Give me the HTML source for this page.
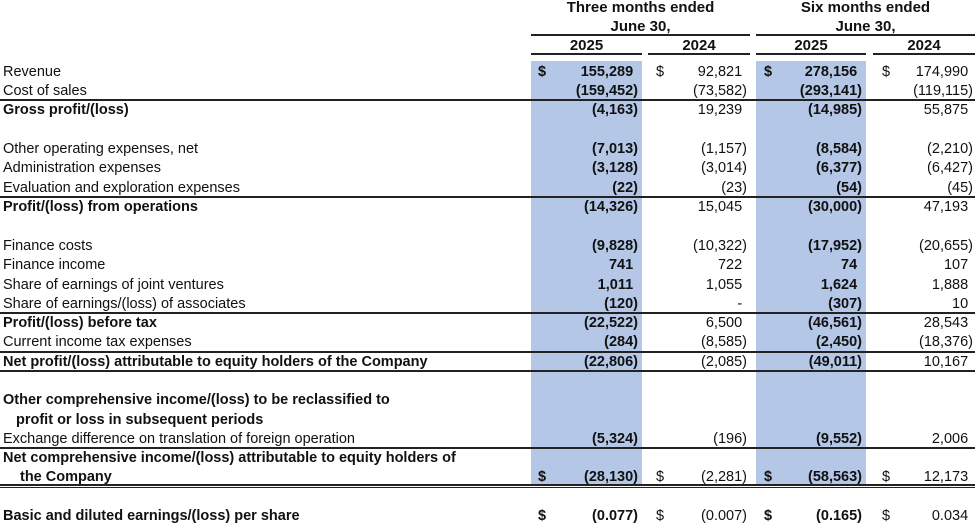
<!DOCTYPE html>
<html><head><meta charset="utf-8"><style>
body{margin:0;width:975px;height:525px;background:#fff;position:relative;overflow:hidden;font-family:"Liberation Sans",Arial,sans-serif;font-size:14.5px;color:#111}
.s{position:absolute;background:#b4c7e7}
.l{position:absolute;background:#222;height:2px}
.t{position:absolute;white-space:nowrap;line-height:19px;height:19px;margin-top:1px}
.b{font-weight:bold}
.c1,.c2,.c3,.c4{text-align:right}
.c1{left:531px;width:107px}.c2{left:648px;width:99px}.c3{left:756px;width:106px}.c4{left:873px;width:100px}
.d1{left:538px}.d2{left:656px}.d3{left:764px}.d4{left:882px}
.h{position:absolute;text-align:center;font-weight:bold;font-size:15px;line-height:19px}
i{font-style:normal;visibility:hidden}
</style></head><body>
<div class="s" style="left:531px;top:61px;width:111px;height:425px"></div>
<div class="s" style="left:756px;top:61px;width:110px;height:425px"></div>

<div class="h" style="left:531px;width:219px;top:-2px">Three months ended</div>
<div class="h" style="left:531px;width:219px;top:17px">June 30,</div>
<div class="h" style="left:756px;width:219px;top:-2px">Six months ended</div>
<div class="h" style="left:756px;width:219px;top:17px">June 30,</div>
<div class="l" style="left:531px;width:219px;top:34px"></div>
<div class="l" style="left:756px;width:219px;top:34px"></div>
<div class="h" style="left:531px;width:111px;top:36px">2025</div>
<div class="h" style="left:648px;width:102px;top:36px">2024</div>
<div class="h" style="left:756px;width:110px;top:36px">2025</div>
<div class="h" style="left:873px;width:102px;top:36px">2024</div>
<div class="l" style="left:531px;width:111px;top:53px"></div>
<div class="l" style="left:648px;width:102px;top:53px"></div>
<div class="l" style="left:756px;width:110px;top:53px"></div>
<div class="l" style="left:873px;width:102px;top:53px"></div>

<div class="l" style="left:0;width:975px;top:99px"></div>
<div class="l" style="left:0;width:975px;top:196px"></div>
<div class="l" style="left:0;width:975px;top:312px"></div>
<div class="l" style="left:0;width:975px;top:351px"></div>
<div class="l" style="left:0;width:975px;top:370px"></div>
<div class="l" style="left:0;width:975px;top:447px"></div>
<div class="l" style="left:0;width:975px;top:484px"></div>
<div class="l" style="left:0;width:975px;top:487px;height:1px"></div>

<div class="t" style="left:3px;top:62px">Revenue</div>
<div class="t b d1" style="top:62px">$</div><div class="t b c1" style="top:62px">155,289<i>)</i></div>
<div class="t d2" style="top:62px">$</div><div class="t c2" style="top:62px">92,821<i>)</i></div>
<div class="t b d3" style="top:62px">$</div><div class="t b c3" style="top:62px">278,156<i>)</i></div>
<div class="t d4" style="top:62px">$</div><div class="t c4" style="top:62px">174,990<i>)</i></div>

<div class="t" style="left:3px;top:81px">Cost of sales</div>
<div class="t b c1" style="top:81px">(159,452)</div><div class="t c2" style="top:81px">(73,582)</div>
<div class="t b c3" style="top:81px">(293,141)</div><div class="t c4" style="top:81px">(119,115)</div>

<div class="t b" style="left:3px;top:100px">Gross profit/(loss)</div>
<div class="t b c1" style="top:100px">(4,163)</div><div class="t c2" style="top:100px">19,239<i>)</i></div>
<div class="t b c3" style="top:100px">(14,985)</div><div class="t c4" style="top:100px">55,875<i>)</i></div>

<div class="t" style="left:3px;top:139px">Other operating expenses, net</div>
<div class="t b c1" style="top:139px">(7,013)</div><div class="t c2" style="top:139px">(1,157)</div>
<div class="t b c3" style="top:139px">(8,584)</div><div class="t c4" style="top:139px">(2,210)</div>

<div class="t" style="left:3px;top:158px">Administration expenses</div>
<div class="t b c1" style="top:158px">(3,128)</div><div class="t c2" style="top:158px">(3,014)</div>
<div class="t b c3" style="top:158px">(6,377)</div><div class="t c4" style="top:158px">(6,427)</div>

<div class="t" style="left:3px;top:178px">Evaluation and exploration expenses</div>
<div class="t b c1" style="top:178px">(22)</div><div class="t c2" style="top:178px">(23)</div>
<div class="t b c3" style="top:178px">(54)</div><div class="t c4" style="top:178px">(45)</div>

<div class="t b" style="left:3px;top:197px">Profit/(loss) from operations</div>
<div class="t b c1" style="top:197px">(14,326)</div><div class="t c2" style="top:197px">15,045<i>)</i></div>
<div class="t b c3" style="top:197px">(30,000)</div><div class="t c4" style="top:197px">47,193<i>)</i></div>

<div class="t" style="left:3px;top:236px">Finance costs</div>
<div class="t b c1" style="top:236px">(9,828)</div><div class="t c2" style="top:236px">(10,322)</div>
<div class="t b c3" style="top:236px">(17,952)</div><div class="t c4" style="top:236px">(20,655)</div>

<div class="t" style="left:3px;top:255px">Finance income</div>
<div class="t b c1" style="top:255px">741<i>)</i></div><div class="t c2" style="top:255px">722<i>)</i></div>
<div class="t b c3" style="top:255px">74<i>)</i></div><div class="t c4" style="top:255px">107<i>)</i></div>

<div class="t" style="left:3px;top:275px">Share of earnings of joint ventures</div>
<div class="t b c1" style="top:275px">1,011<i>)</i></div><div class="t c2" style="top:275px">1,055<i>)</i></div>
<div class="t b c3" style="top:275px">1,624<i>)</i></div><div class="t c4" style="top:275px">1,888<i>)</i></div>

<div class="t" style="left:3px;top:294px">Share of earnings/(loss) of associates</div>
<div class="t b c1" style="top:294px">(120)</div><div class="t c2" style="top:294px">-<i>)</i></div>
<div class="t b c3" style="top:294px">(307)</div><div class="t c4" style="top:294px">10<i>)</i></div>

<div class="t b" style="left:3px;top:313px">Profit/(loss) before tax</div>
<div class="t b c1" style="top:313px">(22,522)</div><div class="t c2" style="top:313px">6,500<i>)</i></div>
<div class="t b c3" style="top:313px">(46,561)</div><div class="t c4" style="top:313px">28,543<i>)</i></div>

<div class="t" style="left:3px;top:332px">Current income tax expenses</div>
<div class="t b c1" style="top:332px">(284)</div><div class="t c2" style="top:332px">(8,585)</div>
<div class="t b c3" style="top:332px">(2,450)</div><div class="t c4" style="top:332px">(18,376)</div>

<div class="t b" style="left:3px;top:352px">Net profit/(loss) attributable to equity holders of the Company</div>
<div class="t b c1" style="top:352px">(22,806)</div><div class="t c2" style="top:352px">(2,085)</div>
<div class="t b c3" style="top:352px">(49,011)</div><div class="t c4" style="top:352px">10,167<i>)</i></div>

<div class="t b" style="left:3px;top:390px">Other comprehensive income/(loss) to be reclassified to</div>
<div class="t b" style="left:16px;top:410px">profit or loss in subsequent periods</div>

<div class="t" style="left:3px;top:429px">Exchange difference on translation of foreign operation</div>
<div class="t b c1" style="top:429px">(5,324)</div><div class="t c2" style="top:429px">(196)</div>
<div class="t b c3" style="top:429px">(9,552)</div><div class="t c4" style="top:429px">2,006<i>)</i></div>

<div class="t b" style="left:3px;top:448px">Net comprehensive income/(loss) attributable to equity holders of</div>
<div class="t b" style="left:20px;top:467px">the Company</div>
<div class="t b d1" style="top:467px">$</div><div class="t b c1" style="top:467px">(28,130)</div>
<div class="t d2" style="top:467px">$</div><div class="t c2" style="top:467px">(2,281)</div>
<div class="t b d3" style="top:467px">$</div><div class="t b c3" style="top:467px">(58,563)</div>
<div class="t d4" style="top:467px">$</div><div class="t c4" style="top:467px">12,173<i>)</i></div>

<div class="t b" style="left:3px;top:506px">Basic and diluted earnings/(loss) per share</div>
<div class="t b d1" style="top:506px">$</div><div class="t b c1" style="top:506px">(0.077)</div>
<div class="t d2" style="top:506px">$</div><div class="t c2" style="top:506px">(0.007)</div>
<div class="t b d3" style="top:506px">$</div><div class="t b c3" style="top:506px">(0.165)</div>
<div class="t d4" style="top:506px">$</div><div class="t c4" style="top:506px">0.034<i>)</i></div>
</body></html>
